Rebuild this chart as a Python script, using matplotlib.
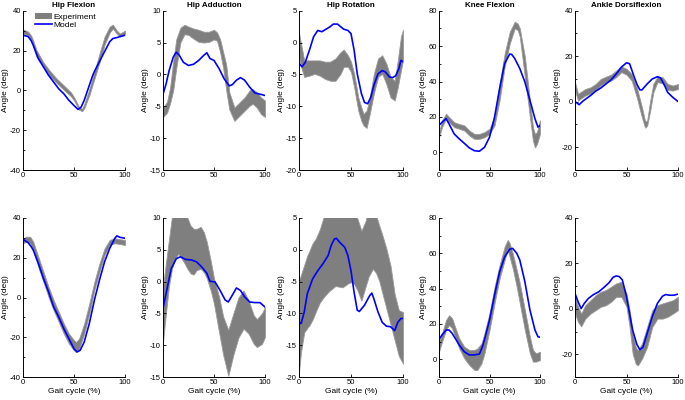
import matplotlib
matplotlib.use("Agg")
import matplotlib.pyplot as plt
from matplotlib.patches import Patch
from matplotlib.lines import Line2D
from matplotlib.ticker import MultipleLocator

plt.rcParams['font.family'] = ['Liberation Sans', 'DejaVu Sans']
plt.rcParams['axes.unicode_minus'] = False

# ---- data (deg vs % gait cycle) ----
titles = ["Hip Flexion", "Hip Adduction", "Hip Rotation", "Knee Flexion", "Ankle Dorsiflexion"]

# row 1
hf1_bx = [0, 5, 8, 10, 13, 20, 26, 33, 40, 47, 50, 55, 58, 60, 65, 68, 72, 75, 80, 85, 88, 92, 95, 100]
hf1_hi = [30.6, 29.5, 27.5, 25, 20.5, 14, 10, 5.9, 2.5, -1, -3.4, -8.4, -9.3, -7, 0.5, 6, 13, 18.5, 27, 32, 33, 30, 28.5, 30]
hf1_lo = [28.6, 27.5, 25.5, 22, 17, 12, 7.5, 3.7, 0.3, -3, -5, -9.7, -10.5, -9, -2.5, 2.5, 9, 14, 23, 29, 31, 28.5, 27, 28]
hf1_mx = [0, 5, 8, 10, 15, 20, 25, 30, 35, 40, 45, 50, 54, 57, 60, 65, 68, 70, 72, 75, 79, 85, 88, 92, 95, 100]
hf1_my = [27.7, 27, 25, 22.7, 16, 11.8, 7.6, 4.2, 0.8, -1.7, -5, -7.6, -9.6, -8.4, -5, 2.5, 7, 9.5, 11.5, 14.5, 18.5, 24.4, 26, 26.5, 27, 27.7]

ha1_bx = [0, 4, 7, 10, 13, 17, 21, 25, 30, 35, 40, 45, 50, 53, 56, 59, 62, 65, 70, 75, 80, 85, 88, 92, 96, 100]
ha1_hi = [-5.2, -4.3, -2.0, 2.0, 5.5, 7.3, 7.8, 7.5, 7.2, 7.0, 6.7, 6.7, 7.0, 6.6, 5.5, 3.5, 1.5, -2.8, -5.2, -4.4, -3.6, -2.5, -2.3, -2.8, -3.6, -4.1]
ha1_lo = [-6.7, -6.0, -4.5, -2.5, 1.0, 5.0, 6.3, 6.2, 5.6, 5.1, 5.0, 5.1, 5.5, 5.3, 3.5, 1.0, -2.5, -5.5, -7.3, -6.5, -5.7, -4.9, -4.6, -5.2, -6.2, -6.7]
ha1_mx = [0, 3, 6, 10, 13, 16, 20, 25, 30, 35, 40, 43, 46, 50, 55, 60, 65, 68, 72, 76, 80, 85, 90, 95, 100]
ha1_my = [-3.1, -1.5, 0.6, 2.7, 3.5, 3.0, 1.9, 1.4, 1.6, 2.2, 3.0, 3.4, 2.5, 2.2, 0.9, -0.7, -1.8, -1.6, -0.9, -0.5, -0.9, -2.0, -2.9, -3.1, -3.3]

hr1_bx = [0, 2, 5, 10, 15, 20, 25, 30, 35, 40, 43, 47, 50, 53, 57, 60, 62, 65, 68, 72, 76, 80, 84, 88, 92, 95, 98, 100]
hr1_hi = [1.5, -0.2, -2.8, -2.8, -2.8, -2.8, -3.0, -3.0, -2.5, -1.5, -1.1, -2.0, -3.0, -4.9, -8.6, -10.2, -11.2, -10.7, -8.6, -4.9, -2.5, -2.0, -3.3, -5.4, -6.0, -2.8, 0.9, 2.0]
hr1_lo = [-2.3, -3.8, -5.4, -5.2, -4.9, -5.2, -5.7, -6.0, -6.0, -4.9, -3.8, -3.8, -4.6, -7.0, -10.7, -12.3, -13.0, -13.4, -11.2, -8.0, -5.4, -4.9, -6.5, -8.6, -9.1, -7.0, -4.4, -2.8]
hr1_mx = [0, 3, 6, 10, 14, 18, 22, 26, 30, 33, 37, 40, 43, 47, 50, 53, 56, 60, 63, 66, 69, 72, 76, 80, 83, 87, 90, 93, 96, 98, 100]
hr1_my = [-3.3, -3.8, -3.1, -1.2, 0.9, 1.9, 1.7, 2.1, 2.5, 2.9, 2.9, 2.5, 2.1, 1.9, 1.4, -1.2, -4.9, -8.0, -9.4, -9.6, -8.6, -6.7, -4.9, -4.4, -4.6, -5.4, -5.5, -5.2, -4.1, -2.8, -3.0]

kf1_bx = [0, 3, 7, 10, 15, 20, 25, 30, 35, 40, 45, 50, 55, 60, 65, 70, 75, 78, 80, 85, 90, 93, 95, 97, 100]
kf1_hi = [11.4, 18, 21.8, 19.9, 17, 16, 15.2, 12.3, 10.4, 10.4, 11.4, 13.3, 19.9, 38.7, 55.7, 68, 73.8, 72.7, 70, 54, 29.4, 14.2, 10.4, 11.4, 18]
kf1_lo = [8.5, 14.2, 19, 17, 14.2, 13.3, 12.3, 9.5, 7.6, 7.6, 8.5, 10.4, 15.2, 29.4, 48.3, 61.4, 70, 69, 65.3, 42.6, 19.9, 6.6, 2.8, 4.7, 10.4]
kf1_mx = [0, 3, 7, 10, 15, 20, 25, 30, 35, 40, 45, 50, 55, 60, 65, 70, 72, 75, 80, 85, 90, 95, 98, 100]
kf1_my = [15.2, 17, 19, 16, 10.4, 7.6, 5.1, 2.5, 0.9, 0.6, 2.8, 8.5, 19.9, 36, 50.2, 55.5, 55.3, 53, 47.3, 39.8, 29.4, 19, 14.2, 15.2]

ad1_bx = [0, 3, 5, 10, 15, 20, 25, 30, 35, 40, 45, 50, 55, 60, 65, 68, 70, 73, 76, 80, 85, 90, 95, 100]
ad1_hi = [8.6, 3.4, 4.1, 5.6, 6.3, 7.8, 10.0, 11.0, 11.9, 13.7, 15.5, 14.5, 12.2, 6.3, -2.5, -8.4, -8.4, 0.4, 7.8, 11.0, 10.8, 7.8, 7.1, 7.8]
ad1_lo = [4.9, 0.4, 1.2, 2.7, 3.7, 5.2, 7.1, 8.6, 9.3, 10.8, 13.0, 11.9, 9.3, 1.9, -6.9, -11.4, -10.6, -4.0, 4.1, 8.6, 8.1, 5.2, 4.9, 5.6]
ad1_mx = [0, 4, 8, 15, 20, 25, 30, 35, 40, 45, 50, 53, 57, 60, 63, 65, 70, 75, 80, 83, 87, 90, 95, 100]
ad1_my = [0.1, -1.3, 0.4, 2.7, 4.6, 6.0, 7.8, 9.6, 12.2, 15.2, 17.1, 16.7, 11.5, 7.8, 5.2, 5.2, 7.8, 10.0, 11.0, 10.5, 7.1, 4.1, 1.9, 0.1]

# row 2
hf2_bx = [0, 3, 7, 10, 15, 20, 25, 30, 35, 40, 45, 50, 52, 55, 60, 65, 70, 75, 80, 85, 90, 95, 100]
hf2_hi = [29.6, 30.6, 30.6, 28.1, 20.5, 13, 5.4, -1.3, -7.2, -13.1, -18.2, -21.5, -22.4, -20.7, -13.1, -3, 7.9, 17.2, 24.7, 29, 29.8, 29.3, 29]
hf2_lo = [27.3, 28, 27.3, 23.9, 15.5, 7.9, 0.3, -6.4, -12.3, -18.2, -23.2, -26.6, -27.4, -25.8, -18.2, -8.1, 3.7, 13, 21.4, 26.4, 27.3, 26.9, 26.4]
hf2_mx = [0, 5, 8, 10, 15, 20, 25, 30, 35, 40, 45, 50, 53, 56, 60, 65, 70, 75, 80, 85, 90, 92, 95, 100]
hf2_my = [29.3, 27.6, 25.6, 23.9, 17.2, 9.6, 2.9, -4.7, -9.8, -15.7, -20.7, -25.8, -27.4, -26.6, -22.4, -13.1, -1.3, 8.8, 18, 24.7, 29.8, 31, 30.3, 29.8]

ha2_bx = [0, 3, 6, 9, 12, 15, 20, 24, 27, 30, 33, 37, 40, 43, 47, 50, 55, 59, 64, 69, 74, 79, 84, 89, 92, 97, 100]
ha2_hi = [-0.8, 3.1, 6.8, 10.5, 12, 12.5, 12, 10, 8.8, 8.3, 8.3, 8.6, 7.8, 6.2, 3.1, 0.5, -2.4, -5.5, -7.6, -5, -2.5, -1.4, -3, -5.3, -5.9, -5, -4]
ha2_lo = [-9.5, -4.8, -0.5, 2.2, 3.6, 4.4, 3.2, 2, 1.3, 1.1, 1.8, 2, 1.5, 0.5, -1.5, -3.5, -8, -11.5, -14.8, -11.5, -8.8, -7.4, -8.2, -9.8, -10.3, -9.8, -8.7]
ha2_mx = [0, 4, 8, 13, 17, 22, 28, 33, 38, 43, 46, 51, 56, 61, 64, 67, 72, 76, 80, 85, 90, 95, 100]
ha2_my = [-4.2, -1.1, 2.0, 3.6, 3.9, 3.5, 3.4, 3.1, 2.3, 1.3, 0.05, -0.05, -1.4, -2.9, -3.2, -2.4, -1.0, -1.4, -2.4, -3.2, -3.3, -3.3, -4.0]

hr2_bx = [0, 2, 5, 8, 10, 13, 16, 20, 24, 29, 35, 42, 47, 50, 53, 56, 60, 64, 67, 71, 74, 77, 80, 84, 88, 92, 96, 100]
hr2_hi = [-4.8, -3.9, -2.4, -0.9, -0.2, 1.0, 1.7, 3.2, 5.3, 7.0, 8.0, 8.0, 8.0, 8.0, 7.0, 5.0, 3.0, 4.5, 6.5, 7.0, 5.5, 3.9, 2.4, 0.2, -2.5, -7.0, -9.5, -9.8]
hr2_lo = [-19.2, -16, -13, -12.3, -11.9, -11, -9.8, -8.3, -7.4, -6.5, -5.7, -5.9, -5.3, -5.1, -5.4, -6.3, -8.0, -5.8, -4.2, -3.0, -3.6, -4.8, -6.7, -9.2, -11.7, -14.2, -16.7, -17.9]
hr2_mx = [0, 2, 5, 8, 13, 18, 23, 28, 31, 34, 36, 39, 44, 47, 50, 53, 56, 58, 63, 68, 70, 72, 76, 80, 84, 88, 92, 95, 98, 100]
hr2_my = [-11.4, -11.6, -9.8, -6.9, -4.6, -3.3, -2.2, -0.9, 0.7, 1.7, 1.8, 1.2, 0.4, -0.9, -3.3, -6.7, -9.5, -9.7, -8.7, -7.2, -6.8, -7.7, -9.8, -11.4, -12.0, -12.1, -12.7, -11.4, -10.8, -10.8]

kf2_bx = [0, 3, 7, 10, 13, 17, 20, 25, 30, 35, 38, 42, 45, 50, 55, 60, 65, 68, 70, 73, 77, 80, 85, 90, 93, 96, 100]
kf2_hi = [10, 14.7, 22.3, 25, 23.2, 16.6, 11.9, 7.2, 5.3, 5.3, 6.2, 9, 14.7, 26, 41, 53.4, 63.8, 67.6, 65.7, 60, 50.5, 43, 28, 12.8, 5.3, 3.4, 4.3]
kf2_lo = [4.3, 10, 16.6, 19.4, 17.5, 11, 6.2, 0.6, -3.2, -6, -6, -2.3, 3.4, 16.6, 31.7, 45.8, 56.2, 62, 58, 51.5, 41, 31.7, 16.6, 3.4, -1.3, -1.3, -0.4]
kf2_mx = [0, 3, 7, 10, 13, 17, 20, 25, 30, 35, 40, 43, 45, 50, 55, 60, 65, 70, 73, 77, 80, 85, 90, 95, 98, 100]
kf2_my = [11.3, 13.8, 16.6, 16.6, 14.7, 11, 8.1, 4.3, 2.5, 2.5, 3, 7.2, 11, 22.3, 36.4, 49.6, 58, 62.3, 62.8, 60, 56.2, 44, 28, 16.6, 12.8, 12.5]

ad2_bx = [0, 3, 6, 10, 15, 20, 25, 30, 35, 40, 45, 50, 53, 56, 59, 61, 65, 70, 75, 80, 85, 90, 95, 100]
ad2_hi = [5.3, 0.9, -2.1, 1.6, 3.8, 6.0, 7.5, 8.3, 9.7, 11.2, 11.9, 6.8, -0.6, -10.9, -16.8, -18.3, -15.3, -8.0, -0.6, 1.6, 2.4, 3.1, 3.8, 5.3]
ad2_lo = [-2.1, -5.8, -7.7, -4.3, -2.1, -0.6, 0.9, 1.6, 3.1, 5.3, 5.3, 0.9, -8.0, -19.8, -24.2, -24.9, -22.0, -16.8, -8.0, -4.3, -4.3, -3.5, -2.1, -0.6]
ad2_mx = [0, 3, 6, 9, 13, 18, 23, 28, 33, 37, 40, 43, 46, 50, 53, 56, 60, 63, 66, 70, 75, 80, 85, 88, 92, 96, 100]
ad2_my = [6.8, 3.1, 0.1, 2.4, 4.6, 6.3, 7.5, 9.4, 11.5, 13.9, 14.5, 14.2, 12.7, 5.3, -2.1, -9.4, -15.6, -18.0, -16.8, -10.9, -3.5, 2.4, 5.6, 6.3, 6.0, 6.0, 6.5]

# y ranges / tick steps per column
ylims = [(-40, 40), (-15, 10), (-20, 5), (-10, 80), (-30, 40)]
yticks = [[-40, -20, 0, 20, 40], [-15, -10, -5, 0, 5, 10], [-20, -15, -10, -5, 0, 5],
          [0, 20, 40, 60, 80], [-20, 0, 20, 40]]
yminor = [10, None, None, 10, 10]

rows = [
    [(hf1_bx, hf1_lo, hf1_hi, hf1_mx, hf1_my), (ha1_bx, ha1_lo, ha1_hi, ha1_mx, ha1_my),
     (hr1_bx, hr1_lo, hr1_hi, hr1_mx, hr1_my), (kf1_bx, kf1_lo, kf1_hi, kf1_mx, kf1_my),
     (ad1_bx, ad1_lo, ad1_hi, ad1_mx, ad1_my)],
    [(hf2_bx, hf2_lo, hf2_hi, hf2_mx, hf2_my), (ha2_bx, ha2_lo, ha2_hi, ha2_mx, ha2_my),
     (hr2_bx, hr2_lo, hr2_hi, hr2_mx, hr2_my), (kf2_bx, kf2_lo, kf2_hi, kf2_mx, kf2_my),
     (ad2_bx, ad2_lo, ad2_hi, ad2_mx, ad2_my)],
]

# ---- layout (pixels of a 685x400 canvas) ----
W, H = 685, 400
lefts = [23, 163, 299, 439, 575]
widths = [102, 102, 104, 101, 103]
row_top = [10.7, 218]
row_bot = [170, 377]

band_col = '#7f7f7f'
model_col = '#0000ff'

fig = plt.figure(figsize=(W / 100, H / 100), dpi=100)

for r in range(2):
    for c in range(5):
        bx, lo, hi, mx, my = rows[r][c]
        ax = fig.add_axes([lefts[c] / W, (H - row_bot[r]) / H,
                           widths[c] / W, (row_bot[r] - row_top[r]) / H])
        ax.fill_between(bx, lo, hi, color=band_col, linewidth=0.6, edgecolor='#9a9a9a')
        ax.plot(mx, my, color=model_col, lw=1.2)

        ax.set_xlim(0, 100)
        ax.set_ylim(*ylims[c])
        ax.set_xticks([0, 50, 100])
        ax.set_yticks(yticks[c])
        if yminor[c]:
            ax.yaxis.set_minor_locator(MultipleLocator(yminor[c]))
        for s in ('top', 'right'):
            ax.spines[s].set_visible(False)
        for s in ('left', 'bottom'):
            ax.spines[s].set_linewidth(0.7)
        ax.tick_params(direction='in', length=2.5, width=0.6, labelsize=5.5, pad=1.5)
        ax.tick_params(which='minor', direction='in', length=1.5, width=0.6)
        ax.set_ylabel('Angle (deg)', fontsize=6, labelpad=1)
        if r == 0:
            ax.set_title(titles[c], fontsize=5.8, fontweight='bold', pad=3)
        else:
            ax.set_xlabel('Gait cycle (%)', fontsize=6, labelpad=1.5)

        if r == 0 and c == 0:
            handles = [Patch(facecolor=band_col, edgecolor='none'),
                       Line2D([], [], color=model_col, lw=1.2)]
            ax.legend(handles, ['Experiment', 'Model'], loc='upper left',
                      bbox_to_anchor=(0.12, 0.985), frameon=False, fontsize=6,
                      handlelength=2.0, handleheight=0.7, handletextpad=0.2,
                      labelspacing=0.05, borderpad=0, borderaxespad=0)

fig.savefig('out.png', dpi=100)
